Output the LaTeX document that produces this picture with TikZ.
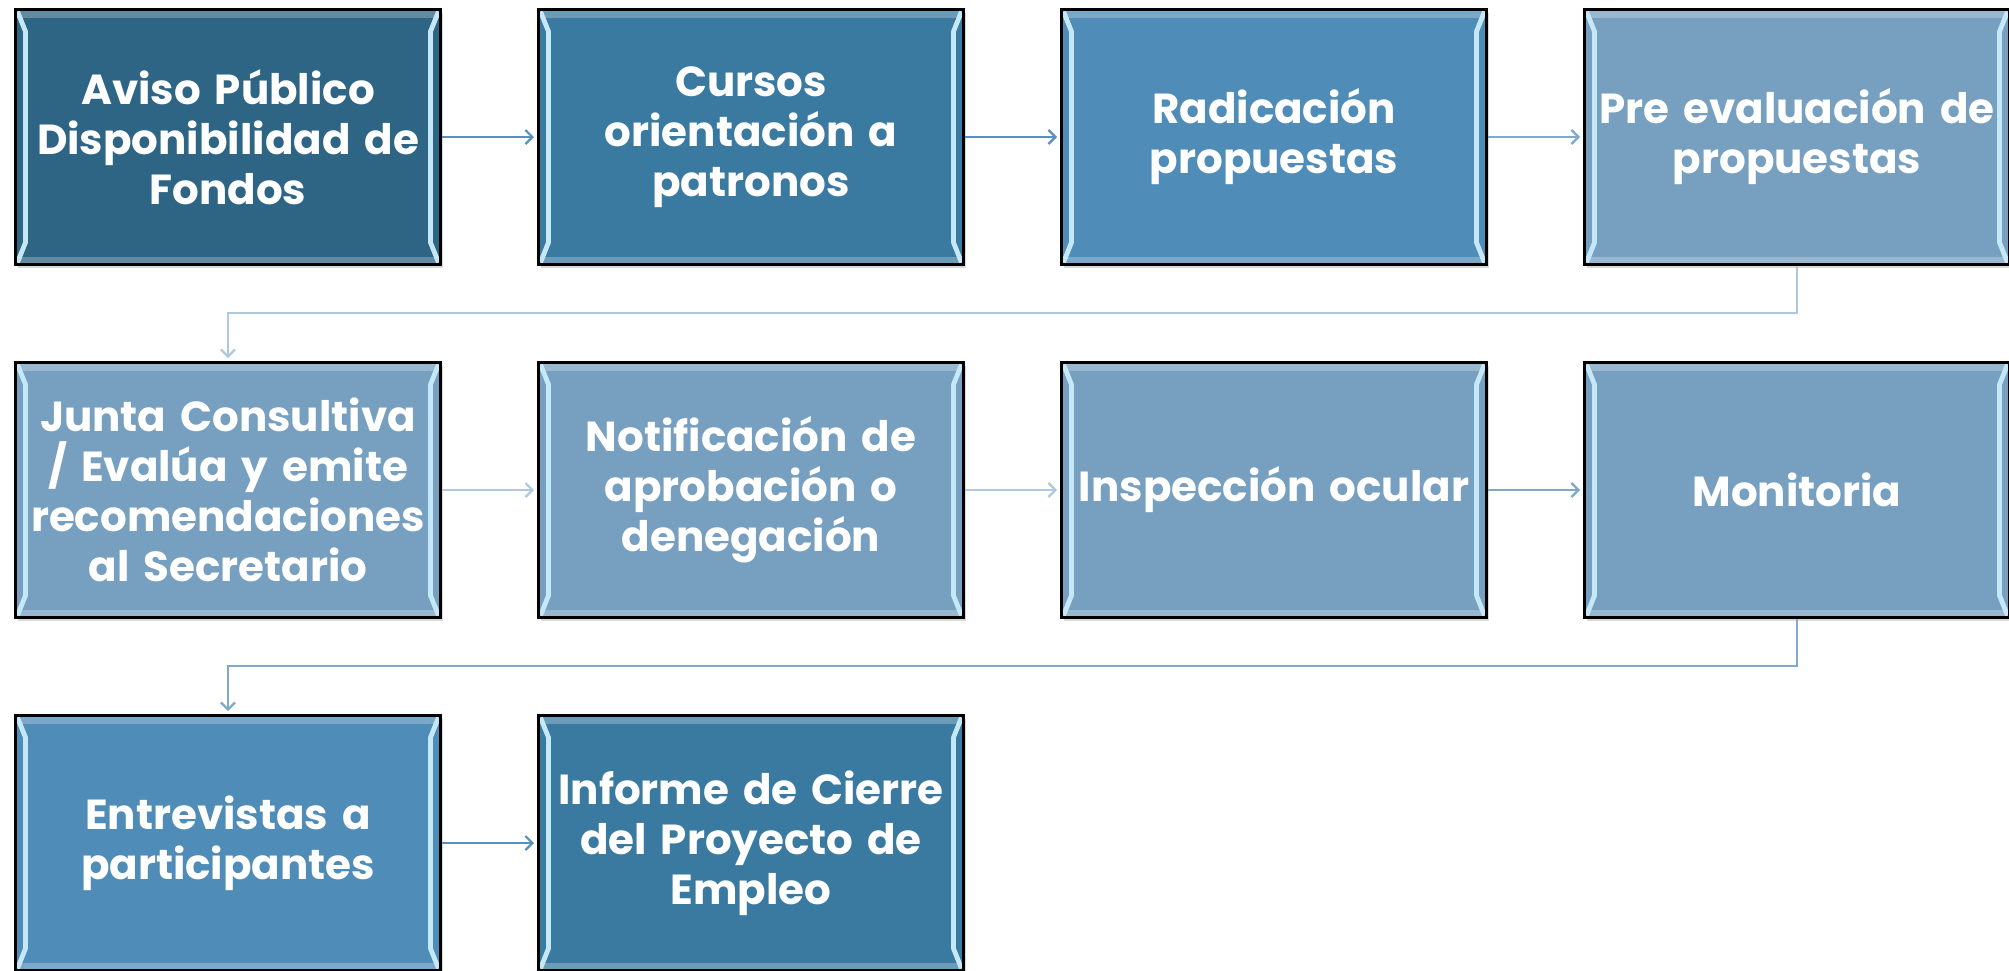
\documentclass[tikz,border=0pt]{standalone}
\usepackage{fontspec}
\setmainfont{Poppins}
\usepackage{tikz}
\usetikzlibrary{positioning}
\usetikzlibrary{shadows}
\usetikzlibrary{arrows.meta}

\definecolor{boxdark}{HTML}{2E6584}
\definecolor{boxmid}{HTML}{3B7AA0}
\definecolor{boxsoft}{HTML}{4F8CB8}
\definecolor{boxlight}{HTML}{779FC0}
\definecolor{bevelhi}{HTML}{C4E8F8}
\definecolor{conndark}{HTML}{5B8FBF}
\definecolor{connmid}{HTML}{80A8CB}
\definecolor{connlight}{HTML}{AFC8DD}

\tikzset{
    stage/.style={draw=black, line width=1.5pt, minimum width=212.5pt, minimum height=127.5pt,
        inner xsep=1pt, text width=208pt, align=center, text=white,
        font=\bfseries\fontsize{21}{25}\selectfont,
        drop shadow={shadow xshift=1.2pt, shadow yshift=-1.5pt, opacity=0.3},
        path picture={
            % bevel bands
            \fill[white, opacity=0.25] (path picture bounding box.north west) rectangle ([yshift=-4pt]path picture bounding box.north east);
            \fill[white, opacity=0.25] (path picture bounding box.south west) rectangle ([yshift=4pt]path picture bounding box.south east);
            \draw[bevelhi, line width=2.4pt, line join=bevel]
                ([shift={(1pt,-1pt)}]path picture bounding box.north west) -- ([shift={(5pt,-11pt)}]path picture bounding box.north west)
                -- ([shift={(5pt,11pt)}]path picture bounding box.south west) -- ([shift={(1pt,1pt)}]path picture bounding box.south west);
            \draw[bevelhi, line width=2.4pt, line join=bevel]
                ([shift={(-1pt,-1pt)}]path picture bounding box.north east) -- ([shift={(-5pt,-11pt)}]path picture bounding box.north east)
                -- ([shift={(-5pt,11pt)}]path picture bounding box.south east) -- ([shift={(-1pt,1pt)}]path picture bounding box.south east);
        }},
    flow/.style={line width=1.1pt, -{Straight Barb[length=3.5pt,width=7pt]}, shorten >=1.5pt},
}

\begin{document}
\begin{tikzpicture}[node distance=47.5pt]
    \useasboundingbox (0,0) rectangle (1004.5pt,-485pt);

    % Row 1
    \node[stage, fill=boxdark] (aviso) at (114pt,-68.5pt) {Aviso Público\\Disponibilidad de\\Fondos};
    \node[stage, fill=boxmid, right=of aviso] (cursos) {Cursos\\orientación a\\patronos};
    \node[stage, fill=boxsoft, right=of cursos] (radicacion) {Radicación\\propuestas};
    \node[stage, fill=boxlight, right=of radicacion] (preeval) {Pre evaluación de\\propuestas};

    % Row 2
    \node[stage, fill=boxlight, below=of aviso] (junta) {Junta Consultiva\\/ Evalúa y emite\\recomendaciones\\al Secretario};
    \node[stage, fill=boxlight, right=of junta] (notif) {Notificación de\\aprobación o\\denegación};
    \node[stage, fill=boxlight, right=of notif] (inspeccion) {Inspección ocular};
    \node[stage, fill=boxlight, right=of inspeccion] (monitoria) {Monitoria};

    % Row 3
    \node[stage, fill=boxsoft, below=of junta] (entrevistas) {Entrevistas a\\participantes};
    \node[stage, fill=boxmid, right=of entrevistas] (informe) {Informe de Cierre\\del Proyecto de\\Empleo};

    % Connectors
    \draw[flow, conndark] (aviso) -- (cursos);
    \draw[flow, conndark] (cursos) -- (radicacion);
    \draw[flow, connmid] (radicacion) -- (preeval);
    \draw[flow, connlight] (preeval.south) -- ++(0,-23.5pt) -| (junta.north);
    \draw[flow, connlight] (junta) -- (notif);
    \draw[flow, connlight] (notif) -- (inspeccion);
    \draw[flow, connmid] (inspeccion) -- (monitoria);
    \draw[flow, connmid] (monitoria.south) -- ++(0,-23.5pt) -| (entrevistas.north);
    \draw[flow, conndark] (entrevistas) -- (informe);
\end{tikzpicture}
\end{document}
